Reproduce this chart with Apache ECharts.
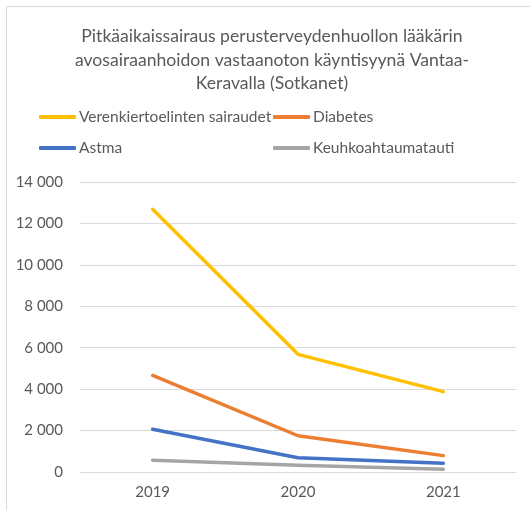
<!DOCTYPE html>
<html>
<head>
<meta charset="utf-8">
<script src="https://cdn.jsdelivr.net/npm/echarts@6/dist/echarts.min.js"></script>
<style>
  html, body { margin: 0; padding: 0; background: #fff; }
  #chart { width: 530px; height: 510px; }
</style>
</head>
<body>
<div id="chart"></div>
<script>
  const years = ['2019', '2020', '2021'];
  const verenkierto = [12680, 5680, 3880];
  const diabetes = [4660, 1750, 790];
  const astma = [2060, 690, 420];
  const keuhko = [570, 320, 130];
  const yTicks = [0, 2000, 4000, 6000, 8000, 10000, 12000, 14000];

  const seriesNames = ['Verenkiertoelinten sairaudet', 'Diabetes', 'Astma', 'Keuhkoahtaumatauti'];
  const seriesColors = ['#FFC000', '#ED7D31', '#4472C4', '#A5A5A5'];
  const seriesData = [verenkierto, diabetes, astma, keuhko];

  const fontFamily = 'Lato, "Open Sans", sans-serif';
  const textColor = '#595959';

  const fmt = (v) => String(v).replace(/\B(?=(\d{3})+(?!\d))/g, ' ');

  const legendPos = [
    { left: 39, top: 109 },
    { left: 273, top: 109 },
    { left: 39, top: 140 },
    { left: 273, top: 140 },
  ];

  const chart = echarts.init(document.getElementById('chart'));

  const option = {
    animation: false,
    graphic: [
      {
        type: 'rect',
        shape: { x: 6.5, y: 6.5, width: 600, height: 600 },
        style: { fill: 'none', stroke: '#d9d9d9', lineWidth: 1 },
        silent: true,
      },
    ],
    title: {
      text: 'Pitkäaikaissairaus perusterveydenhuollon lääkärin\navosairaanhoidon vastaanoton käyntisyynä Vantaa-\nKeravalla (Sotkanet)',
      left: 267,
      top: 20,
      textAlign: 'center',
      textStyle: {
        fontFamily,
        fontSize: 17.6,
        fontWeight: 'normal',
        color: textColor,
        lineHeight: 23.5,
      },
    },
    legend: seriesNames.map((name, i) => ({
      data: [name],
      left: legendPos[i].left,
      top: legendPos[i].top,
      padding: 0,
      icon: 'roundRect',
      itemWidth: 37,
      itemHeight: 4,
      textStyle: { fontFamily, fontSize: 15.5, color: textColor, padding: [0, 0, 0, -2] },
    })),
    grid: {
      left: 80,
      right: 14,
      top: 182,
      bottom: 38,
      containLabel: false,
    },
    xAxis: {
      type: 'category',
      data: years,
      boundaryGap: true,
      axisLine: { show: false },
      axisTick: { show: false },
      axisLabel: { fontFamily, fontSize: 15, color: textColor, margin: 13 },
    },
    yAxis: {
      type: 'value',
      min: yTicks[0],
      max: yTicks[yTicks.length - 1],
      interval: yTicks[1] - yTicks[0],
      axisLine: { show: false },
      axisTick: { show: false },
      axisLabel: { fontFamily, fontSize: 15, color: textColor, margin: 17, formatter: fmt },
      splitLine: { lineStyle: { color: '#d9d9d9', width: 1 } },
    },
    series: seriesNames.map((name, i) => ({
      name,
      type: 'line',
      data: seriesData[i],
      symbol: 'none',
      color: seriesColors[i],
      lineStyle: { width: 3.5, color: seriesColors[i], cap: 'round', join: 'round' },
      z: 10 - i,
    })),
  };

  chart.setOption(option);
</script>
</body>
</html>
